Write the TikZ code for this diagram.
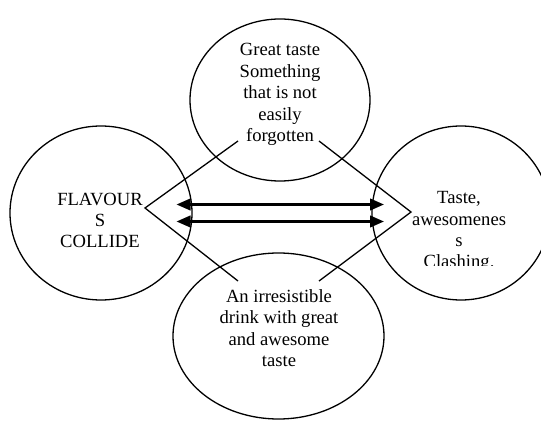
\documentclass[tikz,border=0pt]{standalone}
\usepackage{fontspec}
\setmainfont{Liberation Serif}
\usetikzlibrary{shapes.geometric,arrows.meta}
\begin{document}
\begin{tikzpicture}[x=1pt,y=-1pt,
  blob/.style={ellipse,draw,line width=1.3pt,inner sep=0pt,outer sep=0pt},
  label/.style={align=center,inner sep=0pt,anchor=base,
    font=\fontsize{18.6}{21.5}\selectfont},
  chev/.style={line width=1.3pt,line join=miter},
  dbl/.style={line width=2.4pt,{Triangle[length=14pt,width=11.5pt]}-{Triangle[length=14pt,width=11.5pt]}}]
\useasboundingbox (0,0) rectangle (541,422);

% the four bubbles
\node[blob,minimum width=180pt,minimum height=162pt] (top) at (280,100) {};
\node[blob,minimum width=182pt,minimum height=174pt] (left) at (101,213) {};
\node[blob,minimum width=178pt,minimum height=174pt] (right) at (461,213) {};
\node[blob,minimum width=211pt,minimum height=166pt] (bottom) at (278.5,336) {};

% their texts (anchored on the baseline of the last line)
\node[label] (toptext) at (280,142) {Great taste\\Something\\that is not\\easily\\forgotten};
\node[label] (lefttext) at (100,248) {FLAVOUR\\S\\COLLIDE};
\node[label] (bottomtext) at (279,366.5) {An irresistible\\drink with great\\and awesome\\taste};
\begin{scope}
  \clip (370,120) rectangle (541,265.5);
  \node[label] (righttext) at (459,268) {Taste,\\awesomenes\\s\\Clashing.};
\end{scope}

% chevrons joining the texts
\coordinate (tl) at (238,141);
\coordinate (bl) at (238,281);
\coordinate (tr) at (319,141);
\coordinate (br) at (319,281);
\coordinate (apexL) at (145,208);
\coordinate (apexR) at (411,212);
\draw[chev] (tl) -- (apexL) -- (bl);
\draw[chev] (tr) -- (apexR) -- (br);

% the two double arrows
\coordinate (a1l) at (176.5,204.5);
\coordinate (a1r) at (384,204.5);
\coordinate (a2l) at (176.5,221.5);
\coordinate (a2r) at (384,221.5);
\draw[dbl] (a1l) -- (a1r);
\draw[dbl] (a2l) -- (a2r);
\end{tikzpicture}
\end{document}
